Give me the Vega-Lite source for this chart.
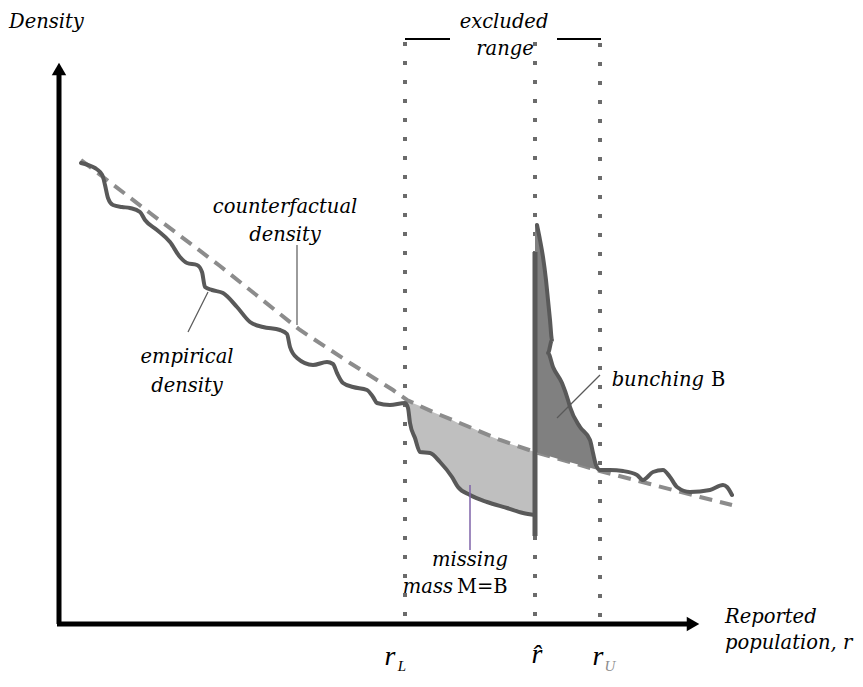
{
  "$schema": "https://vega.github.io/schema/vega-lite/v6.json",
  "autosize": {"type": "fit", "contains": "padding"},
  "width": 863,
  "height": 687,
  "padding": 0,
  "background": "white",
  "config": {"view": {"stroke": null}},
  "datasets": {
    "missing": [
      {"x": 405, "y": 399, "y2": 403},
      {"x": 408, "y": 401, "y2": 408},
      {"x": 410, "y": 402, "y2": 423},
      {"x": 415, "y": 404, "y2": 438},
      {"x": 420, "y": 406, "y2": 452},
      {"x": 430, "y": 411, "y2": 453},
      {"x": 440, "y": 415, "y2": 462},
      {"x": 452, "y": 420, "y2": 477},
      {"x": 458, "y": 423, "y2": 487},
      {"x": 470, "y": 427, "y2": 495},
      {"x": 487, "y": 435, "y2": 502},
      {"x": 507, "y": 443, "y2": 508},
      {"x": 523, "y": 448, "y2": 513},
      {"x": 535, "y": 452, "y2": 515}
    ],
    "bunching": [
      {"y": 225, "x": 535, "x2": 537},
      {"y": 240, "x": 535, "x2": 540},
      {"y": 257, "x": 535, "x2": 543},
      {"y": 280, "x": 535, "x2": 546},
      {"y": 300, "x": 535, "x2": 548},
      {"y": 320, "x": 535, "x2": 550},
      {"y": 340, "x": 535, "x2": 552},
      {"y": 353, "x": 535, "x2": 548},
      {"y": 367, "x": 535, "x2": 553},
      {"y": 383, "x": 535, "x2": 562},
      {"y": 400, "x": 535, "x2": 568},
      {"y": 407, "x": 535, "x2": 570},
      {"y": 427, "x": 535, "x2": 580},
      {"y": 440, "x": 535, "x2": 590},
      {"y": 452, "x": 535, "x2": 593},
      {"y": 460, "x": 562, "x2": 595},
      {"y": 470, "x": 598, "x2": 598}
    ],
    "cf": [
      {"x": 81, "y": 160}, {"x": 150, "y": 213}, {"x": 220, "y": 266}, {"x": 300, "y": 330},
      {"x": 350, "y": 363}, {"x": 393, "y": 390}, {"x": 407, "y": 400}, {"x": 433, "y": 412},
      {"x": 467, "y": 426}, {"x": 500, "y": 440}, {"x": 535, "y": 452}, {"x": 570, "y": 462},
      {"x": 600, "y": 471}, {"x": 650, "y": 484}, {"x": 700, "y": 497}, {"x": 732, "y": 505}
    ],
    "empirical": [
      {"seg": "A", "i": 1, "x": 81, "y": 163}, {"seg": "A", "i": 2, "x": 88, "y": 165}, {"seg": "A", "i": 3, "x": 95, "y": 168},
      {"seg": "A", "i": 4, "x": 100, "y": 172}, {"seg": "A", "i": 5, "x": 103, "y": 177}, {"seg": "A", "i": 6, "x": 105, "y": 185},
      {"seg": "A", "i": 7, "x": 108, "y": 198}, {"seg": "A", "i": 8, "x": 113, "y": 205}, {"seg": "A", "i": 9, "x": 122, "y": 207},
      {"seg": "A", "i": 10, "x": 130, "y": 208}, {"seg": "A", "i": 11, "x": 140, "y": 212}, {"seg": "A", "i": 12, "x": 145, "y": 220},
      {"seg": "A", "i": 13, "x": 157, "y": 230}, {"seg": "A", "i": 14, "x": 170, "y": 242}, {"seg": "A", "i": 15, "x": 180, "y": 257},
      {"seg": "A", "i": 16, "x": 187, "y": 263}, {"seg": "A", "i": 17, "x": 197, "y": 265}, {"seg": "A", "i": 18, "x": 202, "y": 272},
      {"seg": "A", "i": 19, "x": 205, "y": 287}, {"seg": "A", "i": 20, "x": 212, "y": 290}, {"seg": "A", "i": 21, "x": 223, "y": 293},
      {"seg": "A", "i": 22, "x": 237, "y": 307}, {"seg": "A", "i": 23, "x": 250, "y": 322}, {"seg": "A", "i": 24, "x": 263, "y": 327},
      {"seg": "A", "i": 25, "x": 280, "y": 330}, {"seg": "A", "i": 26, "x": 287, "y": 334}, {"seg": "A", "i": 27, "x": 290, "y": 347},
      {"seg": "A", "i": 28, "x": 297, "y": 358}, {"seg": "A", "i": 29, "x": 313, "y": 365}, {"seg": "A", "i": 30, "x": 327, "y": 362},
      {"seg": "A", "i": 31, "x": 333, "y": 364}, {"seg": "A", "i": 32, "x": 337, "y": 373}, {"seg": "A", "i": 33, "x": 343, "y": 383},
      {"seg": "A", "i": 34, "x": 353, "y": 387}, {"seg": "A", "i": 35, "x": 367, "y": 390}, {"seg": "A", "i": 36, "x": 373, "y": 397},
      {"seg": "A", "i": 37, "x": 377, "y": 403}, {"seg": "A", "i": 38, "x": 390, "y": 405}, {"seg": "A", "i": 39, "x": 405, "y": 403},
      {"seg": "A", "i": 40, "x": 408, "y": 408}, {"seg": "A", "i": 41, "x": 410, "y": 423}, {"seg": "A", "i": 42, "x": 415, "y": 438},
      {"seg": "A", "i": 43, "x": 420, "y": 452}, {"seg": "A", "i": 44, "x": 430, "y": 453}, {"seg": "A", "i": 45, "x": 440, "y": 462},
      {"seg": "A", "i": 46, "x": 452, "y": 477}, {"seg": "A", "i": 47, "x": 458, "y": 487}, {"seg": "A", "i": 48, "x": 470, "y": 495},
      {"seg": "A", "i": 49, "x": 487, "y": 502}, {"seg": "A", "i": 50, "x": 507, "y": 508}, {"seg": "A", "i": 51, "x": 523, "y": 513},
      {"seg": "A", "i": 52, "x": 535, "y": 515},
      {"seg": "B", "i": 1, "x": 537, "y": 225}, {"seg": "B", "i": 2, "x": 540, "y": 240}, {"seg": "B", "i": 3, "x": 543, "y": 257},
      {"seg": "B", "i": 4, "x": 546, "y": 280}, {"seg": "B", "i": 5, "x": 548, "y": 300}, {"seg": "B", "i": 6, "x": 550, "y": 320},
      {"seg": "B", "i": 7, "x": 552, "y": 340}, {"seg": "B", "i": 8, "x": 548, "y": 353}, {"seg": "B", "i": 9, "x": 553, "y": 367},
      {"seg": "B", "i": 10, "x": 562, "y": 383}, {"seg": "B", "i": 11, "x": 568, "y": 400}, {"seg": "B", "i": 12, "x": 570, "y": 407},
      {"seg": "B", "i": 13, "x": 580, "y": 427}, {"seg": "B", "i": 14, "x": 590, "y": 440}, {"seg": "B", "i": 15, "x": 593, "y": 453},
      {"seg": "B", "i": 16, "x": 596, "y": 465}, {"seg": "B", "i": 17, "x": 600, "y": 470}, {"seg": "B", "i": 18, "x": 610, "y": 470},
      {"seg": "B", "i": 19, "x": 623, "y": 471}, {"seg": "B", "i": 20, "x": 637, "y": 475}, {"seg": "B", "i": 21, "x": 643, "y": 480},
      {"seg": "B", "i": 22, "x": 653, "y": 472}, {"seg": "B", "i": 23, "x": 663, "y": 470}, {"seg": "B", "i": 24, "x": 670, "y": 477},
      {"seg": "B", "i": 25, "x": 677, "y": 487}, {"seg": "B", "i": 26, "x": 690, "y": 492}, {"seg": "B", "i": 27, "x": 710, "y": 490},
      {"seg": "B", "i": 28, "x": 723, "y": 485}, {"seg": "B", "i": 29, "x": 727, "y": 487}, {"seg": "B", "i": 30, "x": 732, "y": 495}
    ],
    "dotted": [
      {"x": 405, "y": 42, "y2": 623},
      {"x": 535, "y": 42, "y2": 623},
      {"x": 600, "y": 43, "y2": 623}
    ],
    "bar": [{"x": 535, "y": 252, "y2": 536}],
    "brackets": [
      {"x": 405, "y": 39, "x2": 450, "y2": 39},
      {"x": 557, "y": 39, "x2": 601, "y2": 39}
    ],
    "axes": [
      {"x": 59, "y": 72, "x2": 59, "y2": 624},
      {"x": 57, "y": 624, "x2": 690, "y2": 624}
    ],
    "arrowUp": [{"x": 59, "y": 69}],
    "arrowRight": [{"x": 693, "y": 624}],
    "pointers": [
      {"x": 297, "y": 245, "x2": 297, "y2": 325},
      {"x": 208, "y": 292, "x2": 188, "y2": 332},
      {"x": 600, "y": 375, "x2": 557, "y2": 418}
    ],
    "pointerPurple": [{"x": 470, "y": 485, "x2": 470, "y2": 550}],
    "labelsCenter": [
      {"x": 504, "y": 22, "text": "excluded"},
      {"x": 505, "y": 49, "text": "range"},
      {"x": 285, "y": 207, "text": "counterfactual"},
      {"x": 285, "y": 235, "text": "density"},
      {"x": 187, "y": 357, "text": "empirical"},
      {"x": 187, "y": 386, "text": "density"},
      {"x": 470, "y": 560, "text": "missing"}
    ],
    "labelsLeft": [
      {"x": 9, "y": 22, "text": "Density"},
      {"x": 725, "y": 617, "text": "Reported"},
      {"x": 725, "y": 643, "text": "population, r"}
    ],
    "labelsRight": [
      {"x": 704, "y": 380, "text": "bunching"},
      {"x": 453, "y": 587, "text": "mass"}
    ],
    "labelsUpright": [
      {"x": 711, "y": 380, "text": "B"},
      {"x": 457, "y": 587, "text": "M=B"}
    ],
    "rLabels": [
      {"x": 390, "y": 665, "text": "r"},
      {"x": 537, "y": 663, "text": "r̂"},
      {"x": 598, "y": 665, "text": "r"}
    ],
    "subL": [{"x": 402, "y": 671, "text": "L"}],
    "subU": [{"x": 610, "y": 671, "text": "U"}]
  },
  "encoding": {
    "x": {"field": "x", "type": "quantitative", "scale": {"domain": [0, 863], "nice": false, "zero": false}, "axis": null},
    "y": {"field": "y", "type": "quantitative", "scale": {"domain": [0, 687], "nice": false, "zero": false, "reverse": true}, "axis": null}
  },
  "layer": [
    {"data": {"name": "dotted"}, "mark": {"type": "rule", "color": "#6b6b6b", "strokeWidth": 4, "strokeDash": [4, 15]}, "encoding": {"y2": {"field": "y2"}}},
    {"data": {"name": "missing"}, "mark": {"type": "area", "color": "#bfbfbf", "opacity": 1}, "encoding": {"y2": {"field": "y2"}}},
    {"data": {"name": "cf"}, "mark": {"type": "line", "color": "#8c8c8c", "strokeWidth": 4, "strokeDash": [13, 8]}, "encoding": {}},
    {"data": {"name": "bunching"}, "mark": {"type": "area", "orient": "horizontal", "color": "#808080", "opacity": 1}, "encoding": {"x2": {"field": "x2"}}},
    {"data": {"name": "bar"}, "mark": {"type": "rule", "color": "#595959", "strokeWidth": 5}, "encoding": {"y2": {"field": "y2"}}},
    {"data": {"name": "empirical"}, "mark": {"type": "line", "color": "#595959", "strokeWidth": 4, "strokeJoin": "round", "strokeCap": "round", "interpolate": "monotone"}, "encoding": {"detail": {"field": "seg"}, "order": {"field": "i", "type": "quantitative"}}},
    {"data": {"name": "pointers"}, "mark": {"type": "rule", "color": "#595959", "strokeWidth": 1.2}, "encoding": {"x2": {"field": "x2"}, "y2": {"field": "y2"}}},
    {"data": {"name": "pointerPurple"}, "mark": {"type": "rule", "color": "#7f63a8", "strokeWidth": 1.5}, "encoding": {"x2": {"field": "x2"}, "y2": {"field": "y2"}}},
    {"data": {"name": "brackets"}, "mark": {"type": "rule", "color": "black", "strokeWidth": 2}, "encoding": {"x2": {"field": "x2"}, "y2": {"field": "y2"}}},
    {"data": {"name": "axes"}, "mark": {"type": "rule", "color": "black", "strokeWidth": 5}, "encoding": {"x2": {"field": "x2"}, "y2": {"field": "y2"}}},
    {"data": {"name": "arrowUp"}, "mark": {"type": "point", "shape": "triangle-up", "filled": true, "color": "black", "opacity": 1, "size": 210}, "encoding": {}},
    {"data": {"name": "arrowRight"}, "mark": {"type": "point", "shape": "triangle-right", "filled": true, "color": "black", "opacity": 1, "size": 210}, "encoding": {}},
    {"data": {"name": "labelsCenter"}, "mark": {"type": "text", "font": "DejaVu Serif", "fontStyle": "italic", "fontSize": 19.5, "align": "center", "baseline": "middle", "color": "black"}, "encoding": {"text": {"field": "text"}}},
    {"data": {"name": "labelsLeft"}, "mark": {"type": "text", "font": "DejaVu Serif", "fontStyle": "italic", "fontSize": 19.5, "align": "left", "baseline": "middle", "color": "black"}, "encoding": {"text": {"field": "text"}}},
    {"data": {"name": "labelsRight"}, "mark": {"type": "text", "font": "DejaVu Serif", "fontStyle": "italic", "fontSize": 19.5, "align": "right", "baseline": "middle", "color": "black"}, "encoding": {"text": {"field": "text"}}},
    {"data": {"name": "labelsUpright"}, "mark": {"type": "text", "font": "DejaVu Serif", "fontSize": 19.5, "align": "left", "baseline": "middle", "color": "black"}, "encoding": {"text": {"field": "text"}}},
    {"data": {"name": "rLabels"}, "mark": {"type": "text", "font": "Liberation Serif", "fontStyle": "italic", "fontSize": 28, "align": "center", "baseline": "alphabetic", "color": "black"}, "encoding": {"text": {"field": "text"}}},
    {"data": {"name": "subL"}, "mark": {"type": "text", "font": "Liberation Serif", "fontStyle": "italic", "fontSize": 15, "align": "center", "baseline": "alphabetic", "color": "black"}, "encoding": {"text": {"field": "text"}}},
    {"data": {"name": "subU"}, "mark": {"type": "text", "font": "Liberation Serif", "fontStyle": "italic", "fontSize": 15, "align": "center", "baseline": "alphabetic", "color": "#8c8c8c"}, "encoding": {"text": {"field": "text"}}}
  ]
}
